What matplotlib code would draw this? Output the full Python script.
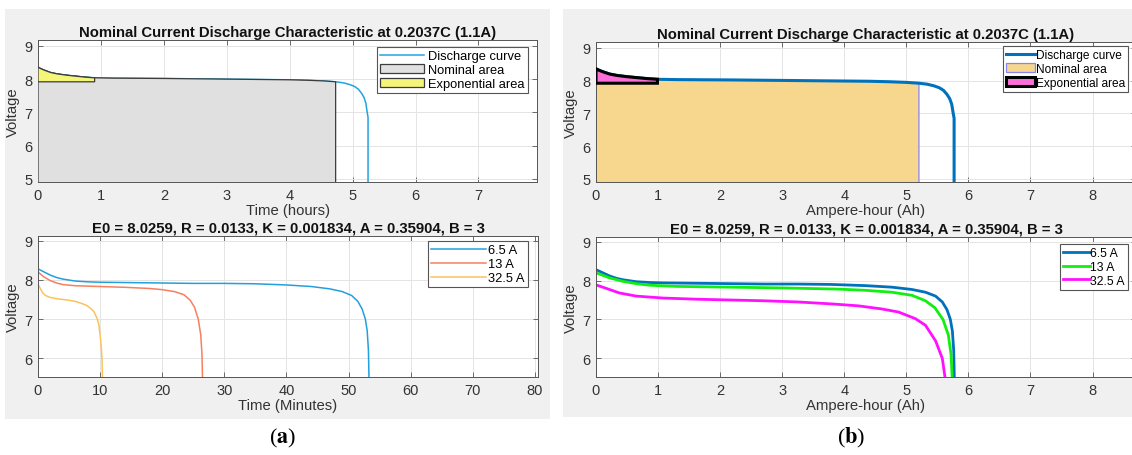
import matplotlib
matplotlib.use("Agg")
import matplotlib.pyplot as plt
from matplotlib.patches import Rectangle, Polygon
import numpy as np

plt.rcParams['font.family'] = ['Liberation Sans', 'DejaVu Sans']
plt.rcParams['mathtext.fontset'] = 'stix'

# Nominal discharge at 0.2037C (1.1 A): time in hours, voltage in volts
nominal_current = 1.1
dis_hours = [0, 0.05, 0.1, 0.2, 0.3, 0.45, 0.6, 0.75, 0.9, 1.2, 1.6, 2.0, 2.5, 3.0,
             3.5, 4.0, 4.3, 4.55, 4.73, 4.85, 4.95, 5.03, 5.09, 5.14, 5.18, 5.21,
             5.23, 5.245, 5.245]
dis_volts = [8.36, 8.31, 8.27, 8.20, 8.16, 8.12, 8.09, 8.06, 8.04, 8.03, 8.025, 8.02,
             8.01, 8.0, 7.99, 7.98, 7.965, 7.945, 7.92, 7.89, 7.84, 7.78, 7.70, 7.58,
             7.45, 7.28, 7.02, 6.85, 4.5]
nom_hours = 4.73    # end of nominal zone
nom_volts = 7.92
exp_hours = 0.9     # end of exponential zone

# Discharge at higher currents: time in minutes, voltage in volts
currents = [6.5, 13, 32.5]
min_6_5 = [0, 1, 2, 3, 4, 6, 8, 10, 15, 20, 25, 30, 35, 40, 44, 47, 49, 50.5, 51.5,
           52.2, 52.7, 53.0, 53.2, 53.3]
volt_6_5 = [8.28, 8.20, 8.12, 8.06, 8.02, 7.97, 7.95, 7.94, 7.93, 7.92, 7.91, 7.91,
            7.90, 7.87, 7.83, 7.77, 7.70, 7.60, 7.45, 7.25, 7.0, 6.7, 6.2, 5.4]
min_13 = [0, 1, 2, 3, 4, 6, 8, 10, 14, 18, 20, 22, 23.5, 24.5, 25.2, 25.8, 26.2,
          26.4, 26.5]
volt_13 = [8.20, 8.07, 7.98, 7.92, 7.88, 7.85, 7.84, 7.83, 7.81, 7.78, 7.75, 7.70,
           7.62, 7.48, 7.30, 7.0, 6.6, 6.1, 5.4]
min_32_5 = [0, 0.3, 0.7, 1.2, 2, 3, 4, 5, 6, 7, 7.8, 8.5, 9.0, 9.5, 9.8, 10.1, 10.3,
            10.4]
volt_32_5 = [7.89, 7.80, 7.68, 7.60, 7.55, 7.52, 7.50, 7.48, 7.45, 7.40, 7.35, 7.27,
             7.19, 7.02, 6.85, 6.45, 6.0, 5.4]
rate_minutes = [min_6_5, min_13, min_32_5]
rate_volts = [volt_6_5, volt_13, volt_32_5]
rate_labels = ['6.5 A', '13 A', '32.5 A']

title_top = 'Nominal Current Discharge Characteristic at 0.2037C (1.1A)'
title_bottom = 'E0 = 8.0259, R = 0.0133, K = 0.001834, A = 0.35904, B = 3'

W, H = 1132, 456
fig = plt.figure(figsize=(W / 100, H / 100), dpi=100)


def box(l, t, r, b):
    return [l / W, 1 - b / H, (r - l) / W, (b - t) / H]


# gray window backgrounds
for l, t, r, b in [(5, 10, 550, 420), (563, 10, 1140, 418)]:
    fig.patches.append(Rectangle((l / W, 1 - b / H), (r - l) / W, (b - t) / H,
                                 transform=fig.transFigure, facecolor='#f0f0f0',
                                 edgecolor='none', zorder=-1))


def style(ax, xlim, ylim, xticks, yticks, title, xlabel):
    ax.set_xlim(*xlim)
    ax.set_ylim(*ylim)
    ax.set_xticks(xticks)
    ax.set_yticks(yticks)
    ax.grid(True, color='#e4e4e4', lw=0.7)
    ax.set_axisbelow(True)
    ax.tick_params(direction='in', top=True, right=True, length=3.5, width=0.6,
                   color='#555555', labelcolor='#333333', labelsize=10.5, pad=4)
    for s in ax.spines.values():
        s.set_color('#555555')
        s.set_linewidth(0.7)
    ax.set_title(title, fontsize=10.7, fontweight='bold', color='#111111', pad=3)
    ax.set_xlabel(xlabel, fontsize=10.7, color='#333333', labelpad=1)
    ax.set_ylabel('Voltage', fontsize=10.7, color='#333333', labelpad=3)


def legend(ax, x, y, **kw):
    opts = dict(loc='upper right', bbox_to_anchor=(x / W, 1 - y / H),
                bbox_transform=fig.transFigure, fancybox=False, framealpha=1,
                edgecolor='#555555', borderpad=0.25, labelspacing=0.15,
                borderaxespad=0)
    opts.update(kw)
    leg = ax.legend(**opts)
    leg.get_frame().set_linewidth(0.8)
    return leg


def area_polygons(x, v, x_nom, x_exp):
    pts = [(a, b) for a, b in zip(x, v) if a <= x_nom]
    nominal = [(0, 0)] + pts + [(x_nom, 0)]
    top = [(a, b) for a, b in zip(x, v) if a <= x_exp]
    exponential = top + [(x_exp, nom_volts), (0, nom_volts)]
    return nominal, exponential


dis_ah = [h * nominal_current for h in dis_hours]

# (a) top: discharge vs time
ax1 = fig.add_axes(box(38, 41, 537, 183))
ax1.plot(dis_hours, dis_volts, color='#22a3df', lw=1.1, label='Discharge curve', zorder=2)
nom_poly, exp_poly = area_polygons(dis_hours, dis_volts, nom_hours, exp_hours)
ax1.add_patch(Polygon(nom_poly, facecolor='#e0e0e0', edgecolor='#3c3c3c', lw=0.9,
                      zorder=3, label='Nominal area'))
ax1.add_patch(Polygon(exp_poly, facecolor='#f5f57a', edgecolor='#3c3c3c', lw=0.9,
                      zorder=4, label='Exponential area'))
style(ax1, (0, 7.93), (4.9, 9.18), range(8), range(5, 10), title_top, 'Time (hours)')
legend(ax1, 528, 48, fontsize=9.3, handlelength=3.4, handletextpad=0.3)

# (b) top: discharge vs capacity
ax2 = fig.add_axes(box(596, 43, 1136, 183))
ax2.plot(dis_ah, dis_volts, color='#0072bd', lw=2.2, label='Discharge curve', zorder=3)
nom_poly, exp_poly = area_polygons(dis_ah, dis_volts, nom_hours * nominal_current,
                                   exp_hours * nominal_current)
ax2.add_patch(Polygon(nom_poly, facecolor='#f7d78e', edgecolor='#8a84ee', lw=0.9,
                      zorder=2, label='Nominal area'))
ax2.add_patch(Polygon(exp_poly, facecolor='#fc6fd8', edgecolor='black', lw=2.2,
                      zorder=4, label='Exponential area'))
style(ax2, (0, 8.7), (4.9, 9.18), range(9), range(5, 10), title_top, 'Ampere-hour (Ah)')
legend(ax2, 1128, 47, fontsize=8.6, handlelength=2.4, handletextpad=0.1)

# (a) bottom: several currents vs time
ax3 = fig.add_axes(box(38, 237, 538, 378))
for t, v, lab, c in zip(rate_minutes, rate_volts, rate_labels,
                        ['#22a0dd', '#f5805f', '#f9c35d']):
    ax3.plot(t, v, color=c, lw=1.1, label=lab)
style(ax3, (0, 80.5), (5.52, 9.12), range(0, 81, 10), range(6, 10), title_bottom,
      'Time (Minutes)')
legend(ax3, 528, 242, fontsize=9.3, handlelength=4.2, handletextpad=0.2)

# (b) bottom: several currents vs capacity
ax4 = fig.add_axes(box(596, 238, 1136, 378))
for i, t, v, lab, c in zip(currents, rate_minutes, rate_volts, rate_labels,
                           ['#0072bd', '#11ee11', '#ff11ff']):
    ax4.plot([m / 60 * i for m in t], v, color=c, lw=2.0, label=lab)
style(ax4, (0, 8.7), (5.52, 9.12), range(9), range(6, 10), title_bottom,
      'Ampere-hour (Ah)')
legend(ax4, 1128, 245, fontsize=8.8, handlelength=2.2, handletextpad=0.05)

for x, s in [(283, 'a'), (851, 'b')]:
    fig.text(x / W, 1 - 438 / H, '($\\mathbf{%s}$)' % s, fontsize=16,
             family='Liberation Serif', ha='center', va='center')

fig.savefig('out.png', dpi=100)
